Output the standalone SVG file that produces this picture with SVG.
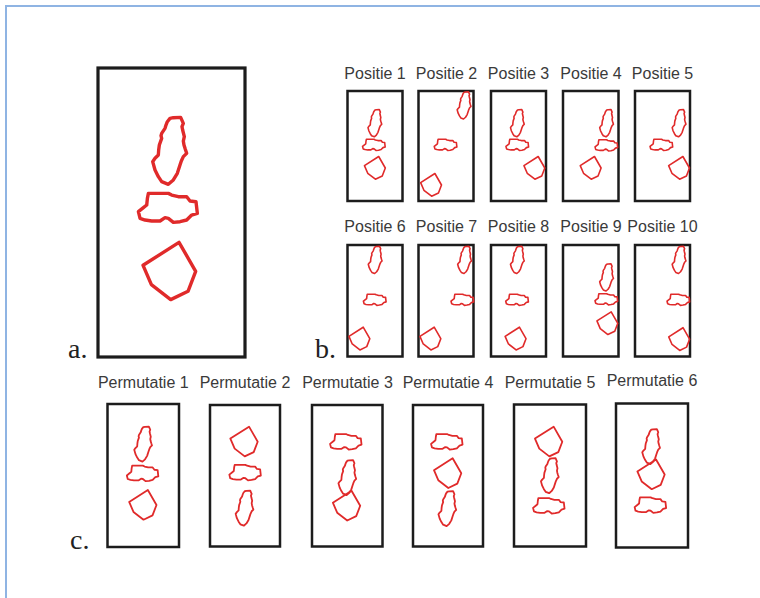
<svg xmlns="http://www.w3.org/2000/svg" xmlns:xlink="http://www.w3.org/1999/xlink" width="760" height="598" viewBox="0 0 760 598">
<style>
.frame{fill:none;stroke:#8fb4e3;stroke-width:2}
.box{fill:#fff;stroke:#1c1c1c;stroke-width:2.5}
.bigbox{fill:#fff;stroke:#1c1c1c;stroke-width:3.2}
.sh{fill:none;stroke:#e02a2a;stroke-linejoin:round}
.big{stroke-width:3.4}
.sm{stroke-width:1.6}
.pm{stroke-width:1.8}
.lbl{font-family:"Liberation Sans",Arial,sans-serif;font-size:16px;fill:#3a3a3a;text-anchor:middle}
.let{font-family:"Liberation Serif","Times New Roman",serif;font-size:28px;fill:#222}
</style>
<defs>
<path id="blob" vector-effect="non-scaling-stroke" d="M0,-98 L10,-100 L32,-101 L36,-92 L40,-83 L36,-73 L38,-63 L43,-43 L40,-30 L42,-18 L46,-5 L50,7 L40,17 L34,30 L30,42 L22,67 L10,87 L-5,100 L-25,92 L-35,77 L-45,57 L-52,32 L-45,22 L-35,12 L-34,-3 L-32,-18 L-25,-38 L-27,-46 L-25,-53 L-15,-68 L-12,-78 L-8,-88 Z"/>
<path id="flat" vector-effect="non-scaling-stroke" d="M-58,-43 L2,-43 L12,-38 L32,-33 L57,-33 L67,-20 L85,-18 L89,17 L72,22 L57,37 L37,42 L17,44 L2,32 L-8,30 L-23,40 L-48,40 L-68,37 L-83,32 L-88,12 L-73,0 L-63,-8 L-61,-28 Z"/>
<path id="pent" vector-effect="non-scaling-stroke" d="M-80,-18 L28,-87 L78,0 L55,60 L3,85 L-55,40 Z"/>
</defs>
<rect width="760" height="598" fill="#fff"/>
<path class="frame" d="M6,598 V6 H760"/>

<g id="panel-a">
<rect class="bigbox" x="98" y="68" width="147" height="289"/>
<use href="#blob" class="sh big" transform="translate(170,151) scale(0.333)"/>
<use href="#flat" class="sh big" transform="translate(167.7,207.7) scale(0.333)"/>
<use href="#pent" class="sh big" transform="translate(169.7,271.3) scale(0.333)"/>
<text class="let" x="68" y="358">a.</text>
</g>

<g id="panel-b-label"><text class="let" x="315" y="358">b.</text></g>

<g id="positie-1">
<text class="lbl" x="375" y="79">Positie 1</text>
<rect class="box" x="347.5" y="91" width="55" height="110"/>
<use href="#blob" class="sh sm" transform="translate(375,123.3) scale(0.135)"/>
<use href="#flat" class="sh sm" transform="translate(373.8,144.8) scale(0.128)"/>
<use href="#pent" class="sh sm" transform="translate(375,168) scale(0.132)"/>
</g>
<g id="positie-2">
<text class="lbl" x="446.5" y="79">Positie 2</text>
<rect class="box" x="418.5" y="91" width="55" height="110"/>
<use href="#blob" class="sh sm" transform="translate(464.2,105.5) scale(0.135)"/>
<use href="#flat" class="sh sm" transform="translate(445.5,144.8) scale(0.128)"/>
<use href="#pent" class="sh sm" transform="translate(431.2,185) scale(0.132)"/>
</g>
<g id="positie-3">
<text class="lbl" x="518.5" y="79">Positie 3</text>
<rect class="box" x="491" y="91" width="55" height="110"/>
<use href="#blob" class="sh sm" transform="translate(517.5,123.3) scale(0.135)"/>
<use href="#flat" class="sh sm" transform="translate(517.2,144.8) scale(0.128)"/>
<use href="#pent" class="sh sm" transform="translate(534.5,168) scale(0.132)"/>
</g>
<g id="positie-4">
<text class="lbl" x="591" y="79">Positie 4</text>
<rect class="box" x="563" y="91" width="55.5" height="110"/>
<use href="#blob" class="sh sm" transform="translate(606.7,123.3) scale(0.135)"/>
<use href="#flat" class="sh sm" transform="translate(606.3,145.3) scale(0.128)"/>
<use href="#pent" class="sh sm" transform="translate(590.8,168) scale(0.132)"/>
</g>
<g id="positie-5">
<text class="lbl" x="662.5" y="79">Positie 5</text>
<rect class="box" x="635" y="91" width="55" height="110"/>
<use href="#blob" class="sh sm" transform="translate(679.2,123.3) scale(0.135)"/>
<use href="#flat" class="sh sm" transform="translate(661.3,144.8) scale(0.128)"/>
<use href="#pent" class="sh sm" transform="translate(679.2,168) scale(0.132)"/>
</g>

<g id="positie-6">
<text class="lbl" x="375" y="232">Positie 6</text>
<rect class="box" x="347.5" y="245" width="55" height="111.5"/>
<use href="#blob" class="sh sm" transform="translate(375.3,260) scale(0.135)"/>
<use href="#flat" class="sh sm" transform="translate(374.7,299.7) scale(0.128)"/>
<use href="#pent" class="sh sm" transform="translate(359.5,338.7) scale(0.132)"/>
</g>
<g id="positie-7">
<text class="lbl" x="446.5" y="232">Positie 7</text>
<rect class="box" x="418.5" y="245" width="55" height="111.5"/>
<use href="#blob" class="sh sm" transform="translate(464.7,260) scale(0.135)"/>
<use href="#flat" class="sh sm" transform="translate(462.3,299.7) scale(0.128)"/>
<use href="#pent" class="sh sm" transform="translate(430.5,338.7) scale(0.132)"/>
</g>
<g id="positie-8">
<text class="lbl" x="518.5" y="232">Positie 8</text>
<rect class="box" x="491" y="245" width="55" height="111.5"/>
<use href="#blob" class="sh sm" transform="translate(517.5,260) scale(0.135)"/>
<use href="#flat" class="sh sm" transform="translate(517,299.7) scale(0.128)"/>
<use href="#pent" class="sh sm" transform="translate(515.7,338.7) scale(0.132)"/>
</g>
<g id="positie-9">
<text class="lbl" x="591" y="232">Positie 9</text>
<rect class="box" x="563" y="245" width="55.5" height="111.5"/>
<use href="#blob" class="sh sm" transform="translate(606.7,277.5) scale(0.135)"/>
<use href="#flat" class="sh sm" transform="translate(606.3,299.2) scale(0.128)"/>
<use href="#pent" class="sh sm" transform="translate(607.5,323.3) scale(0.132)"/>
</g>
<g id="positie-10">
<text class="lbl" x="662.5" y="232">Positie 10</text>
<rect class="box" x="635" y="245" width="55" height="111.5"/>
<use href="#blob" class="sh sm" transform="translate(679.2,260) scale(0.135)"/>
<use href="#flat" class="sh sm" transform="translate(678.3,299.7) scale(0.128)"/>
<use href="#pent" class="sh sm" transform="translate(679.3,339.2) scale(0.132)"/>
</g>

<g id="panel-c-label"><text class="let" x="70" y="549">c.</text></g>

<g id="permutatie-1">
<text class="lbl" x="143.3" y="388">Permutatie 1</text>
<rect class="box" x="107.5" y="404" width="71.5" height="143"/>
<use href="#blob" class="sh pm" transform="translate(143.3,444.2) scale(0.174)"/>
<use href="#flat" class="sh pm" transform="translate(142.5,473.3) scale(0.178)"/>
<use href="#pent" class="sh pm" transform="translate(143,505) scale(0.173)"/>
</g>
<g id="permutatie-2">
<text class="lbl" x="245" y="388">Permutatie 2</text>
<rect class="box" x="210" y="405" width="70" height="141.5"/>
<use href="#pent" class="sh pm" transform="translate(244.2,441.7) scale(0.173)"/>
<use href="#flat" class="sh pm" transform="translate(245,472.5) scale(0.178)"/>
<use href="#blob" class="sh pm" transform="translate(244.7,508.3) scale(0.174)"/>
</g>
<g id="permutatie-3">
<text class="lbl" x="347.5" y="388">Permutatie 3</text>
<rect class="box" x="312" y="405" width="70.5" height="141.5"/>
<use href="#flat" class="sh pm" transform="translate(345.7,441.7) scale(0.178)"/>
<use href="#blob" class="sh pm" transform="translate(347.5,477.7) scale(0.174)"/>
<use href="#pent" class="sh pm" transform="translate(346.7,505.8) scale(0.173)"/>
</g>
<g id="permutatie-4">
<text class="lbl" x="448" y="388">Permutatie 4</text>
<rect class="box" x="413" y="405" width="70" height="141.5"/>
<use href="#flat" class="sh pm" transform="translate(446.7,441.7) scale(0.178)"/>
<use href="#pent" class="sh pm" transform="translate(447.8,473.3) scale(0.173)"/>
<use href="#blob" class="sh pm" transform="translate(447.5,508.7) scale(0.174)"/>
</g>
<g id="permutatie-5">
<text class="lbl" x="550" y="388">Permutatie 5</text>
<rect class="box" x="514" y="404.5" width="72" height="142"/>
<use href="#pent" class="sh pm" transform="translate(548.8,441.7) scale(0.173)"/>
<use href="#blob" class="sh pm" transform="translate(550,475.8) scale(0.174)"/>
<use href="#flat" class="sh pm" transform="translate(548.7,505.7) scale(0.178)"/>
</g>
<g id="permutatie-6">
<text class="lbl" x="652" y="386">Permutatie 6</text>
<rect class="box" x="616" y="403.5" width="72" height="144"/>
<use href="#blob" class="sh pm" transform="translate(651.3,446.7) scale(0.174)"/>
<use href="#pent" class="sh pm" transform="translate(651.2,474.5) scale(0.173)"/>
<use href="#flat" class="sh pm" transform="translate(650.3,505) scale(0.178)"/>
</g>

<g id="connectors"/>
</svg>
